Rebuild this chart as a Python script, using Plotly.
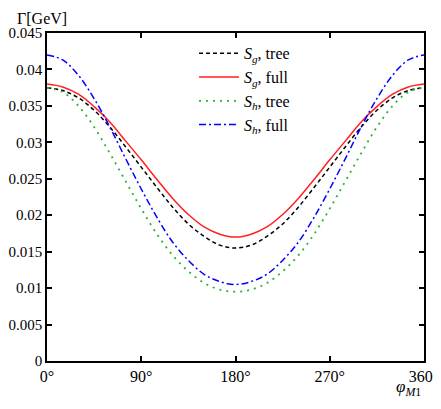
import plotly.graph_objects as go

# angle of phi_M1 in degrees
phi = [0, 15, 30, 45, 60, 75, 90, 105, 120, 135, 150, 165, 180,
       195, 210, 225, 240, 255, 270, 285, 300, 315, 330, 345, 360]

# widths (GeV)
sg_tree = [0.0375, 0.0371, 0.0361, 0.0344, 0.0321, 0.0294, 0.0266, 0.0238, 0.0211, 0.0188, 0.0171, 0.0159, 0.0155,
           0.0159, 0.0171, 0.0188, 0.0211, 0.0238, 0.0266, 0.0294, 0.0321, 0.0344, 0.0361, 0.0371, 0.0375]
sg_full = [0.0380, 0.0376, 0.0366, 0.0349, 0.0328, 0.0302, 0.0276, 0.0249, 0.0223, 0.0201, 0.0184, 0.0174, 0.0170,
           0.0174, 0.0184, 0.0201, 0.0223, 0.0249, 0.0276, 0.0302, 0.0328, 0.0349, 0.0366, 0.0376, 0.0380]
sh_tree = [0.0375, 0.0369, 0.0350, 0.0321, 0.0285, 0.0247, 0.0209, 0.0174, 0.0145, 0.0123, 0.0107, 0.0098, 0.0095,
           0.0098, 0.0107, 0.0123, 0.0145, 0.0174, 0.0209, 0.0247, 0.0285, 0.0321, 0.0350, 0.0369, 0.0375]
sh_full = [0.0420, 0.0413, 0.0392, 0.0360, 0.0321, 0.0278, 0.0236, 0.0197, 0.0163, 0.0138, 0.0119, 0.0109, 0.0105,
           0.0109, 0.0119, 0.0138, 0.0163, 0.0197, 0.0236, 0.0278, 0.0321, 0.0360, 0.0392, 0.0413, 0.0420]

x_ticks = [0, 90, 180, 270, 360]
x_labels = ["0°", "90°", "180°", "270°", "360°"]
y_ticks = [0, 0.005, 0.01, 0.015, 0.02, 0.025, 0.03, 0.035, 0.04, 0.045]
y_labels = ["0", "0.005", "0.01", "0.015", "0.02", "0.025", "0.03", "0.035", "0.04", "0.045"]

font = "Times New Roman, Liberation Serif, serif"

fig = go.Figure()
fig.add_trace(go.Scatter(x=phi, y=sg_tree, mode="lines", name="<i>S</i><sub><i>g</i></sub>, tree",
                         line=dict(color="black", width=1.5, dash="4px,3px", shape="spline")))
fig.add_trace(go.Scatter(x=phi, y=sg_full, mode="lines", name="<i>S</i><sub><i>g</i></sub>, full",
                         line=dict(color="#ff2020", width=1.5, shape="spline")))
fig.add_trace(go.Scatter(x=phi, y=sh_tree, mode="lines", name="<i>S</i><sub><i>h</i></sub>, tree",
                         line=dict(color="#30b030", width=1.8, dash="2px,5px", shape="spline")))
fig.add_trace(go.Scatter(x=phi, y=sh_full, mode="lines", name="<i>S</i><sub><i>h</i></sub>, full",
                         line=dict(color="#0000ff", width=1.5, dash="7px,3px,2px,3px", shape="spline")))

axis_common = dict(showgrid=False, zeroline=False, showline=True, linecolor="black", linewidth=1.5,
                   mirror="ticks", ticks="inside", ticklen=5, tickwidth=1.5, tickcolor="black",
                   automargin=False)

fig.update_xaxes(range=[0, 360], tickvals=x_ticks, ticktext=x_labels,
                 tickfont=dict(family=font, size=16, color="black"), **axis_common)
fig.update_yaxes(range=[0, 0.045], tickvals=y_ticks, ticktext=y_labels, ticklabelstandoff=0,
                 tickfont=dict(family=font, size=15, color="black"), **axis_common)

fig.add_annotation(text="Γ[GeV]", xref="paper", yref="paper", x=-0.085, y=1.076,
                   xanchor="left", yanchor="top", showarrow=False,
                   font=dict(family=font, size=16, color="black"))
fig.add_annotation(text="<i>φ</i><sub><i>M</i>1</sub>", xref="paper", yref="paper", x=0.958, y=-0.122,
                   xanchor="center", yanchor="bottom", showarrow=False,
                   font=dict(family=font, size=17, color="black"))

# the page body has an 8px margin, so the figure sits at (8, 8) in the window
fig.update_layout(
    width=433, height=393,
    margin=dict(l=39, r=17, t=25, b=40, autoexpand=False),
    plot_bgcolor="white", paper_bgcolor="white",
    font=dict(family=font, size=16, color="black"),
    legend=dict(x=0.39, y=0.99, xanchor="left", yanchor="top", bgcolor="rgba(0,0,0,0)",
                font=dict(family=font, size=16), tracegroupgap=0, itemwidth=40),
)

fig.write_html("out.html")
